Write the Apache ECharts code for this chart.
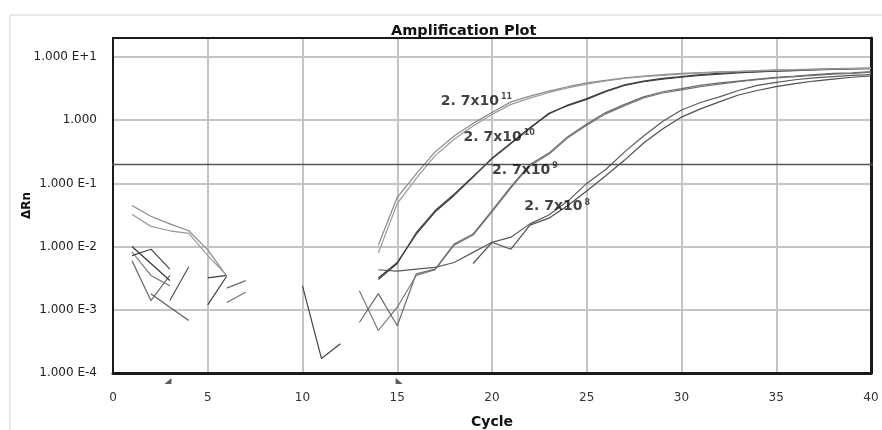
<!DOCTYPE html>
<html>
<head>
<meta charset="utf-8">
<title>Amplification Plot</title>
<script src="https://cdn.jsdelivr.net/npm/echarts@6/dist/echarts.min.js"></script>
<style>
  html, body { margin: 0; padding: 0; background: #ffffff; }
  #chart { width: 882px; height: 430px; }
</style>
</head>
<body>
<div id="chart"></div>
<script>
// Real-time PCR amplification: delta Rn per cycle for four dilutions, two wells each.
// null = no value drawn for that cycle (negative delta Rn cannot go on a log axis).
const cycles = [1, 2, 3, 4, 5, 6, 7, 8, 9, 10, 11, 12, 13, 14, 15, 16, 17, 18, 19, 20,
                21, 22, 23, 24, 25, 26, 27, 28, 29, 30, 31, 32, 33, 34, 35, 36, 37, 38, 39, 40];

// 2.7 x 10^11 copies
const well11a = [0.0447, 0.0302, 0.0229, 0.0178, 0.0089, 0.0034, null, null, null, null,
                 null, null, null, 0.0105, 0.0603, 0.141, 0.316, 0.562, 0.891, 1.32,
                 1.95, 2.40, 2.88, 3.39, 3.89, 4.27, 4.68, 5.01, 5.25, 5.50,
                 5.69, 5.82, 5.96, 6.10, 6.24, 6.31, 6.46, 6.53, 6.61, 6.68];
const well11b = [0.0324, 0.0209, 0.0178, 0.0162, 0.0072, 0.0035, null, null, null, null,
                 null, null, null, 0.0079, 0.0479, 0.120, 0.275, 0.501, 0.813, 1.23,
                 1.78, 2.24, 2.75, 3.24, 3.72, 4.17, 4.57, 4.90, 5.13, 5.37,
                 5.56, 5.75, 5.89, 6.03, 6.17, 6.24, 6.31, 6.46, 6.53, 6.61];
// 2.7 x 10^10 copies
const well10a = [0.0100, 0.0054, 0.0029, null, 0.0032, 0.0035, null, null, null, null,
                 null, null, null, 0.0032, 0.0056, 0.0158, 0.0355, 0.0646, 0.126, 0.251,
                 0.437, 0.759, 1.26, 1.74, 2.19, 2.88, 3.63, 4.17, 4.57, 4.90,
                 5.25, 5.50, 5.75, 5.89, 6.03, 6.17, 6.31, 6.46, 6.53, 6.61];
const well10b = [0.0072, 0.0091, 0.0044, null, 0.0012, 0.0034, null, null, null, 0.0024,
                 0.00017, 0.00029, null, 0.0030, 0.0054, 0.0166, 0.0372, 0.0676, 0.129, 0.245,
                 0.427, 0.741, 1.29, 1.70, 2.14, 2.82, 3.55, 4.07, 4.47, 4.79,
                 5.13, 5.37, 5.62, 5.82, 5.96, 6.10, 6.24, 6.38, 6.46, 6.53];
// 2.7 x 10^9 copies
const well9a = [0.0060, 0.0014, 0.0035, null, null, 0.0022, 0.0029, null, null, null,
                null, null, 0.00063, 0.0018, 0.00056, 0.0037, 0.0044, 0.0110, 0.0158, 0.0372,
                0.0891, 0.200, 0.302, 0.550, 0.871, 1.32, 1.78, 2.34, 2.82, 3.16,
                3.55, 3.89, 4.17, 4.47, 4.79, 5.01, 5.25, 5.50, 5.62, 5.89];
const well9b = [0.0083, 0.0035, 0.0024, null, null, 0.0013, 0.0019, null, null, null,
                null, null, 0.0020, 0.00047, 0.0011, 0.0035, 0.0043, 0.0105, 0.0152, 0.0355,
                0.0851, 0.191, 0.288, 0.525, 0.832, 1.26, 1.70, 2.24, 2.69, 3.02,
                3.39, 3.72, 4.07, 4.37, 4.68, 4.90, 5.13, 5.37, 5.50, 5.75];
// 2.7 x 10^8 copies
const well8a = [null, 0.0018, 0.0011, 0.00068, null, null, null, null, null, null,
                null, null, null, 0.0043, 0.0041, 0.0044, 0.0047, 0.0056, 0.0081, 0.0117,
                0.0141, 0.0229, 0.0316, 0.0525, 0.100, 0.166, 0.316, 0.562, 0.955, 1.45,
                1.91, 2.34, 2.95, 3.55, 3.98, 4.37, 4.68, 4.90, 5.13, 5.25];
const well8b = [null, null, 0.0014, 0.0048, null, null, null, null, null, null,
                null, null, null, null, null, null, null, null, 0.0054, 0.0117,
                0.0091, 0.0219, 0.0282, 0.0447, 0.0759, 0.132, 0.234, 0.437, 0.724, 1.12,
                1.51, 1.95, 2.51, 2.95, 3.39, 3.80, 4.17, 4.47, 4.79, 5.01];

const threshold = 0.2;
const thresholdSpan = [-0.42, 40.3];
const baselineMarks = [2.9, 15.1];

const yTickLabels = ['1.000 E-4', '1.000 E-3', '1.000 E-2', '1.000 E-1', '1.000', '1.000 E+1'];
const yMinExp = -4;

const dilutionBase = '2. 7x10';
const dilutionExps = ['11', '10', '9', '8'];
const dilutionAt = [[17.3, 2.0], [18.5, 0.54], [20.0, 0.162], [21.7, 0.043]];

const FONT = 'DejaVu Sans';
const GRID_LINE = { color: '#c4c4c4', width: 2, type: 'solid', opacity: 1 };
const FRAME = '#1a1a1a';

function wellSeries(name, values, color, width) {
  return {
    type: 'line',
    name: name,
    xAxisIndex: 0,
    yAxisIndex: 0,
    data: cycles.map((c, i) => [c, values[i] == null ? '-' : values[i]]),
    showSymbol: false,
    symbol: 'none',
    connectNulls: false,
    silent: true,
    z: 3,
    lineStyle: { color: color, width: width }
  };
}

const chart = echarts.init(document.getElementById('chart'), null, { renderer: 'canvas' });

chart.setOption({
  animation: false,
  backgroundColor: '#ffffff',
  graphic: [{
    type: 'rect',
    shape: { x: 10, y: 15, width: 880, height: 420 },
    style: { fill: 'none', stroke: '#d4d4d4', lineWidth: 1 },
    silent: true,
    z: -10
  }],
  title: {
    text: 'Amplification Plot',
    left: 386,
    top: 19,
    textStyle: { fontFamily: FONT, fontWeight: 'bold', fontSize: 14.5, color: '#111' }
  },
  grid: {
    left: 113, top: 38, right: 11, bottom: 57,
    show: false,
    containLabel: false,
    outerBoundsMode: 'none'
  },
  xAxis: [{
    type: 'value',
    position: 'bottom',
    min: 0, max: 40, interval: 5,
    name: 'Cycle',
    nameLocation: 'middle',
    nameGap: 42,
    nameMoveOverlap: false,
    nameTextStyle: { fontFamily: FONT, fontWeight: 'bold', fontSize: 14, color: '#111' },
    axisLine: { show: true, onZero: false, lineStyle: { color: FRAME, width: 3 } },
    axisTick: { show: false },
    axisLabel: { margin: 19, fontFamily: FONT, fontSize: 12, color: '#333' },
    splitLine: { show: true, lineStyle: GRID_LINE }
  }, {
    // top edge of the plot frame
    type: 'value',
    position: 'top',
    min: 0, max: 40,
    axisLine: { show: true, onZero: false, lineStyle: { color: FRAME, width: 2 } },
    axisTick: { show: false },
    axisLabel: { show: false },
    splitLine: { show: false }
  }],
  yAxis: [{
    type: 'log',
    logBase: 10,
    position: 'left',
    min: 0.0001, max: 20,
    name: '\u0394Rn',
    nameLocation: 'middle',
    nameGap: 80,
    nameMoveOverlap: false,
    nameRotate: 90,
    nameTextStyle: { fontFamily: FONT, fontWeight: 'bold', fontSize: 12, color: '#111' },
    axisLine: { show: true, onZero: false, lineStyle: { color: FRAME, width: 2 } },
    axisTick: { show: false },
    axisLabel: {
      margin: 16, fontFamily: FONT, fontSize: 12, color: '#222',
      formatter: function (v) {
        const e = Math.log10(v);
        const r = Math.round(e);
        if (Math.abs(e - r) > 1e-6) return '';
        const label = yTickLabels[r - yMinExp];
        return label === undefined ? '' : label;
      }
    },
    splitLine: { show: true, lineStyle: GRID_LINE }
  }, {
    // right edge of the plot frame
    type: 'value',
    position: 'right',
    min: 0, max: 1,
    axisLine: { show: true, onZero: false, lineStyle: { color: FRAME, width: 3 } },
    axisTick: { show: false },
    axisLabel: { show: false },
    splitLine: { show: false }
  }],
  series: [
    wellSeries('2.7x10^8 a', well8a, '#5a5a5a', 1.2),
    wellSeries('2.7x10^8 b', well8b, '#505050', 1.2),
    wellSeries('2.7x10^9 a', well9a, '#6a6a6a', 1.2),
    wellSeries('2.7x10^9 b', well9b, '#707070', 1.1),
    wellSeries('2.7x10^10 a', well10a, '#3c3c3c', 1.3),
    wellSeries('2.7x10^10 b', well10b, '#444444', 1.2),
    wellSeries('2.7x10^11 a', well11a, '#8a8a8a', 1.2),
    wellSeries('2.7x10^11 b', well11b, '#9a9a9a', 1.2),
    {
      type: 'line',
      name: 'threshold',
      data: thresholdSpan.map(x => [x, threshold]),
      clip: false,
      symbol: 'none',
      silent: true,
      z: 4,
      lineStyle: { color: '#555555', width: 1.5 }
    },
    {
      type: 'scatter',
      name: 'baseline',
      clip: false,
      silent: true,
      z: 5,
      symbolSize: [7, 6],
      itemStyle: { color: '#333333' },
      data: [
        { value: [baselineMarks[0], 0.000075], symbol: 'path://M10,0 L10,10 L0,10 Z' },
        { value: [baselineMarks[1], 0.000075], symbol: 'path://M0,0 L0,10 L10,10 Z' }
      ]
    },
    {
      type: 'scatter',
      name: 'dilutions',
      silent: true,
      z: 6,
      symbolSize: 0,
      data: dilutionAt.map((p, i) => ({ value: p, exp: dilutionExps[i] })),
      label: {
        show: true,
        position: 'right',
        distance: 0,
        formatter: function (p) {
          return '{b|' + dilutionBase + '}{s|' + dilutionExps[p.dataIndex] + '}';
        },
        rich: {
          b: { fontFamily: FONT, fontWeight: 'bold', fontSize: 14, color: '#111', lineHeight: 16 },
          s: { fontFamily: FONT, fontWeight: 'bold', fontSize: 8, color: '#222', verticalAlign: 'top', padding: [0, 0, 0, 2], lineHeight: 16 }
        }
      }
    }
  ]
});
</script>
</body>
</html>
